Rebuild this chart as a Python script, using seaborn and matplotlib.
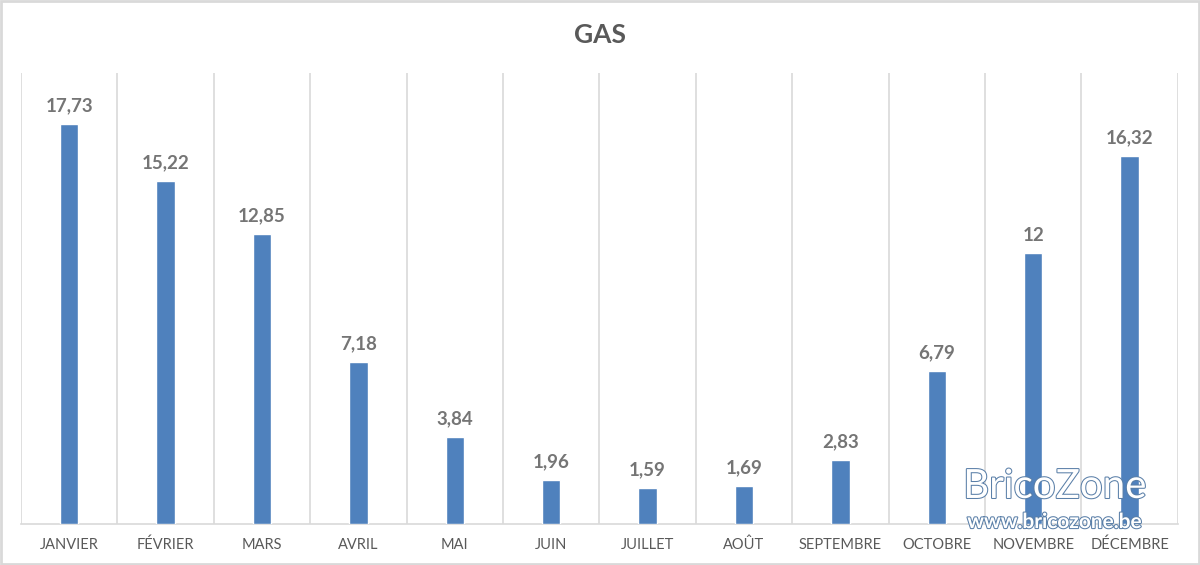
import matplotlib
matplotlib.use("Agg")
import matplotlib.pyplot as plt
import matplotlib.patheffects as pe
import seaborn as sns
import pandas as pd

months = ["JANVIER", "FÉVRIER", "MARS", "AVRIL", "MAI", "JUIN",
          "JUILLET", "AOÛT", "SEPTEMBRE", "OCTOBRE", "NOVEMBRE", "DÉCEMBRE"]
gas = [17.73, 15.22, 12.85, 7.18, 3.84, 1.96, 1.59, 1.69, 2.83, 6.79, 12, 16.32]

df = pd.DataFrame({"mois": months, "gas": gas})

sns.set_style("white")
plt.rcParams['font.family'] = ['Lato', 'DejaVu Sans']

fig = plt.figure(figsize=(12, 5.65), dpi=100)
ax = fig.add_axes([0.0175, 0.0726, 0.964, 0.798])

sns.barplot(data=df, x="mois", y="gas", color="#4F81BD", saturation=1,
            width=0.19, ax=ax, zorder=3)

ax.set_ylim(0, 20)
ax.set_xlim(-0.5, len(months) - 0.5)
ax.set_yticks([])
ax.set_xlabel("")
ax.set_ylabel("")

# vertical separators between categories
ax.set_xticks([i - 0.5 for i in range(len(months) + 1)], minor=True)
ax.grid(True, which="minor", axis="x", color="#D9D9D9", linewidth=1.2, zorder=0)
ax.tick_params(axis="x", which="both", length=0, pad=10,
               labelsize=10.5, labelcolor="#595959")

for s in ["top", "left", "right"]:
    ax.spines[s].set_visible(False)
ax.spines["bottom"].set_color("#D9D9D9")
ax.spines["bottom"].set_linewidth(1.2)

for i, v in enumerate(gas):
    txt = f"{v:g}".replace(".", ",")
    ax.annotate(txt, (i, v), xytext=(0, 7), textcoords="offset points",
                ha="center", va="bottom", fontsize=13.5, fontweight="bold",
                color="#757575")

fig.text(0.5, 0.938, "GAS", ha="center", va="center", fontsize=19,
         fontweight="bold", color="#595959")

# watermark
fig.text(0.879, 0.139, "BricoZone", ha="center", va="center", fontsize=29,
         color="white", path_effects=[pe.withStroke(linewidth=1.5, foreground="#5A7FA8")])
fig.text(0.879, 0.076, "www.bricozone.be", ha="center", va="center", fontsize=15,
         fontweight="bold", color="white",
         path_effects=[pe.withStroke(linewidth=1.5, foreground="#5A7FA8")])

# light border around the figure
fig.patches.append(plt.Rectangle((0.001, 0.002), 0.998, 0.996, transform=fig.transFigure,
                                 fill=False, edgecolor="#D9D9D9", linewidth=2))

fig.savefig("out.png", dpi=100)
